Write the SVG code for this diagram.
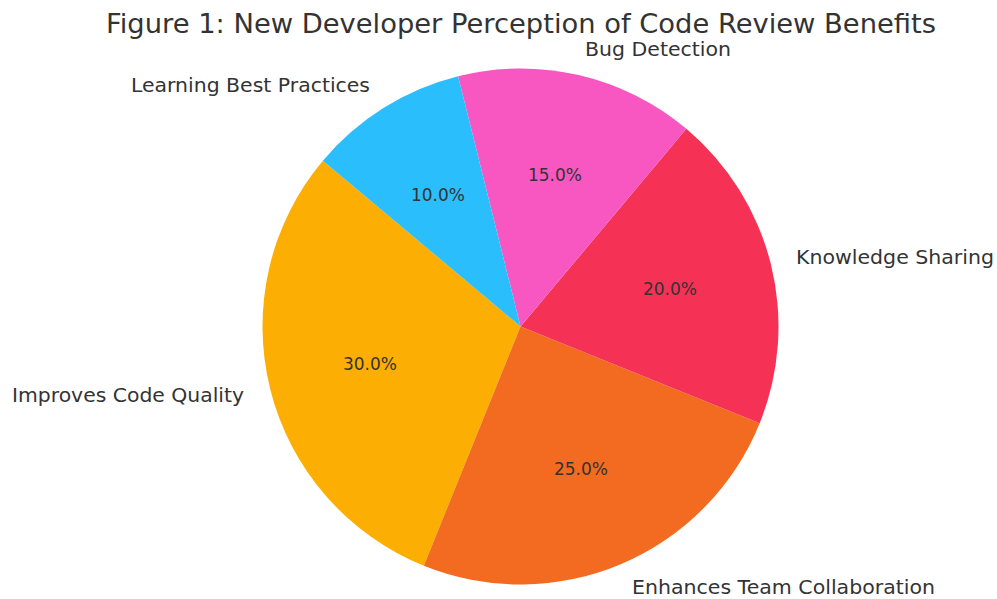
<svg xmlns="http://www.w3.org/2000/svg" width="997" height="599" viewBox="0 0 997 599">
<style>
text{font-family:"DejaVu Sans","Liberation Sans",sans-serif;fill:#333}
.t{font-size:26px}
.l{font-size:20px}
.p{font-size:17px;text-anchor:middle}
</style>
<rect width="997" height="599" fill="#fff"/>
<text class="t" x="106" y="33" textLength="830" lengthAdjust="spacingAndGlyphs">Figure 1: New Developer Perception of Code Review Benefits</text>
<g id="slices">
<g id="improves"><path d="M520.5 326.5 L322.86 160.66 A258 258 0 0 0 423.85 565.71 Z" fill="#FDAE02"/></g>
<g id="enhances"><path d="M520.5 326.5 L423.85 565.71 A258 258 0 0 0 759.71 423.15 Z" fill="#F26B21"/></g>
<g id="knowledge"><path d="M520.5 326.5 L759.71 423.15 A258 258 0 0 0 686.34 128.86 Z" fill="#F53256"/></g>
<g id="bug"><path d="M520.5 326.5 L686.34 128.86 A258 258 0 0 0 458.08 76.16 Z" fill="#F857C1"/></g>
<g id="learning"><path d="M520.5 326.5 L458.08 76.16 A258 258 0 0 0 322.86 160.66 Z" fill="#2BBEFC"/></g>
</g>
<g id="labels">
<text class="l" x="12" y="402" textLength="232" lengthAdjust="spacingAndGlyphs">Improves Code Quality</text>
<text class="l" x="632" y="594" textLength="303" lengthAdjust="spacingAndGlyphs">Enhances Team Collaboration</text>
<text class="l" x="796" y="264" textLength="198" lengthAdjust="spacingAndGlyphs">Knowledge Sharing</text>
<text class="l" x="585" y="56" textLength="146" lengthAdjust="spacingAndGlyphs">Bug Detection</text>
<text class="l" x="131" y="92" textLength="239" lengthAdjust="spacingAndGlyphs">Learning Best Practices</text>
</g>
<g id="pct">
<text class="p" x="370" y="370">30.0%</text>
<text class="p" x="581" y="475">25.0%</text>
<text class="p" x="670" y="295">20.0%</text>
<text class="p" x="555" y="181">15.0%</text>
<text class="p" x="438" y="201">10.0%</text>
</g>
</svg>
